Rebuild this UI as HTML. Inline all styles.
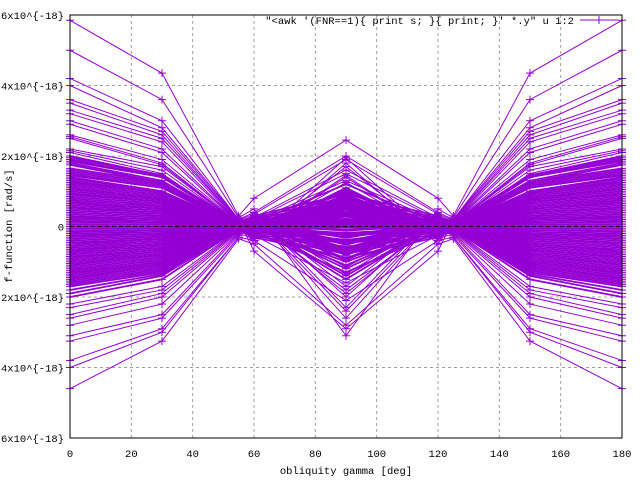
<!DOCTYPE html>
<html><head><meta charset="utf-8"><style>
body{margin:0;background:#fff}
svg{display:block;font-family:"Liberation Mono","DejaVu Sans Mono",monospace;font-size:10.5px}
</style></head><body>
<svg id="chart" width="640" height="480" viewBox="0 0 640 480" xmlns="http://www.w3.org/2000/svg">
<g id="grid"></g>
<g id="series"></g>
<g id="axes"></g>
<text x="346" y="474" text-anchor="middle">obliquity gamma [deg]</text>
<text transform="translate(12,226) rotate(-90)" text-anchor="middle">f-function [rad/s]</text>
<g>
<text x="574" y="24" text-anchor="end">"&lt;awk '(FNR==1){ print s; }{ print; }' *.y" u 1:2</text>
<line x1="580" y1="20" x2="618" y2="20" stroke="#9400d3"/>
<path d="M595 20h8M599 16v8" stroke="#9400d3"/>
</g>
</svg>
<script>
const xTicks=[0,20,40,60,80,100,120,140,160,180];
const yTicks=[-6,-4,-2,0,2,4,6];
const yTickLabels=["-6x10^{-18}","-4x10^{-18}","-2x10^{-18}","0","2x10^{-18}","4x10^{-18}","6x10^{-18}"];
const xPoints=[0,30,55,60,90,120,125,150,180];
const valAt0=[5.85,5.0,4.2,4.0,3.6,3.5,3.3,3.2,3.0,2.9,2.6,2.55,2.5,2.2,2.15,2.1,2.0,1.9,1.8,1.75,1.6,1.5,1.4,1.3,1.2,1.1,1.0,0.9,0.8,0.7,0.6,0.5,0.4,0.3,0.2,0.1,0.0,-0.1,-0.2,-0.3,-0.4,-0.5,-0.6,-0.7,-0.8,-0.9,-1.0,-1.1,-1.2,-1.3,-1.4,-1.5,-1.6,-1.7,-1.8,-1.9,-2.0,-2.2,-2.3,-2.5,-2.6,-2.8,-3.1,-3.25,-3.8,-4.0,-4.6,
1.95,1.85,1.65,1.55,1.45,1.35,1.25,1.15,1.05,0.95,0.85,0.75,0.65,0.55,0.45,0.35,0.25,0.15,0.05,-0.05,-0.15,-0.25,-0.35,-0.45,-0.55,-0.65,-0.75,-0.85,-0.95,-1.05,-1.15,-1.25,-1.35,-1.45,-1.55,-1.65];
const valAt30=[4.35,3.6,3.0,2.8,2.7,2.6,2.5,2.4,2.2,2.1,1.9,1.8,1.75,1.7,1.6,1.5,1.45,1.4,1.3,1.25,1.2,1.1,1.0,0.95,0.9,0.8,0.75,0.7,0.6,0.5,0.45,0.4,0.3,0.2,0.15,0.1,0.0,-0.1,-0.15,-0.2,-0.3,-0.35,-0.45,-0.5,-0.6,-0.65,-0.75,-0.8,-0.9,-1.0,-1.05,-1.1,-1.2,-1.3,-1.35,-1.4,-1.5,-1.7,-1.8,-1.9,-2.0,-2.2,-2.5,-2.6,-2.9,-3.0,-3.25,
1.45,1.4,1.25,1.15,1.1,1.0,0.95,0.85,0.8,0.7,0.65,0.55,0.5,0.4,0.35,0.25,0.2,0.1,0.05,-0.05,-0.1,-0.2,-0.25,-0.35,-0.4,-0.5,-0.55,-0.65,-0.7,-0.8,-0.85,-0.95,-1.0,-1.1,-1.15,-1.25];
const valAt55=[0.3,0.25,0.2,0.2,0.18,0.15,0.15,0.12,0.12,0.1,0.1,0.08,0.08,0.07,0.06,0.05,0.05,0.04,0.04,0.03,0.03,0.02,0.02,0.01,0.01,0,0,0,0,0,0,0,0,0,0,0,0,0,0,0,0,0,0,0,0,0,-0.01,-0.01,-0.02,-0.02,-0.03,-0.03,-0.04,-0.05,-0.05,-0.06,-0.07,-0.08,-0.1,-0.12,-0.15,-0.18,-0.2,-0.25,-0.3,-0.3,-0.35,
0.1,0.08,0.06,0.05,0.04,0.03,0.02,0.02,0.01,0,0,0,0,0,0,0,0,0,0,0,0,0,0,0,0,0,-0.01,-0.02,-0.02,-0.03,-0.04,-0.05,-0.06,-0.08,-0.1,-0.1];
const valAt60=[0.8,0.5,0.4,-0.7,0.35,0.3,-0.5,0.3,0.25,-0.4,0.2,0.2,-0.3,0.15,0.15,-0.25,0.1,0.1,-0.2,0.1,0.05,-0.15,0.05,0.05,-0.1,0,0.05,-0.05,0,0.05,-0.05,0,0.02,-0.02,0,0.02,0,-0.02,0.02,0,-0.05,0.05,0,-0.05,0.05,0,-0.1,0.1,-0.05,0.05,-0.15,0.1,-0.1,0.15,-0.2,0.15,-0.2,0.2,-0.25,0.25,-0.3,0.3,-0.35,0.35,-0.4,0.4,-0.5,
0.3,-0.3,0.25,-0.25,0.2,-0.2,0.15,-0.15,0.1,-0.1,0.1,-0.1,0.05,-0.05,0.05,-0.05,0,0,0,0,0.05,-0.05,0.05,-0.05,0.1,-0.1,0.1,-0.1,0.15,-0.15,0.2,-0.2,0.25,-0.25,0.3,-0.3];
const valAt90=[2.45,-3.1,2.0,-2.9,1.9,-2.6,1.8,-2.4,1.6,-2.1,1.5,-1.9,1.4,-1.8,1.3,-1.6,1.2,-1.5,1.1,-1.4,1.0,-1.3,0.95,-1.2,0.9,-1.1,0.8,-1.0,0.75,-0.9,0.7,-0.8,0.6,-0.7,0.5,-0.6,0.4,-0.5,0.3,-0.4,0.2,-0.3,0.1,-0.2,0.0,-0.1,0.15,-0.25,0.35,-0.45,0.55,-0.65,0.65,-0.75,0.85,-0.95,1.05,-1.15,1.25,-1.35,1.45,-1.7,1.7,-2.0,1.95,-2.3,-2.8,
0.92,-0.88,0.82,-0.78,0.72,-0.68,0.62,-0.58,0.52,-0.48,0.42,-0.38,0.32,-0.28,0.22,-0.18,0.12,-0.08,0.05,-0.02,-0.12,0.18,-0.22,0.28,-0.32,0.38,-0.42,0.48,-0.52,0.58,-0.62,0.68,-0.72,0.78,-0.82,0.88];
const X0=70,X1=622,Y0=438,Y1=15;
const sx=v=>X0+(v-0)/180*(X1-X0);
const sy=v=>Y0-(v+6)/12*(Y0-Y1);
const NS="http://www.w3.org/2000/svg";
function mk(tag,attrs,parent){const e=document.createElementNS(NS,tag);for(const k in attrs)e.setAttribute(k,attrs[k]);parent.appendChild(e);return e;}
const grid=document.getElementById('grid'),axes=document.getElementById('axes'),ser=document.getElementById('series');
xTicks.forEach(t=>{
  const x=sx(t);
  if(t>0&&t<180){const g=mk('line',{x1:x,y1:Y1,x2:x,y2:Y0,stroke:'#a0a0a0','stroke-dasharray':'3,3'},grid);
  
  }
  const tl=mk('text',{x:x,y:457,'text-anchor':'middle'},axes);tl.textContent=t;
  
  
});
yTicks.forEach((t,i)=>{
  const y=sy(t);
  if(t!==0&&Math.abs(t)<6){const g=mk('line',{x1:X0,y1:y,x2:X1,y2:y,stroke:'#a0a0a0','stroke-dasharray':'3,3'},grid);
  
  }
  const tl=mk('text',{x:64,y:y+4,'text-anchor':'end'},axes);tl.textContent=yTickLabels[i];
  
  
});
valAt0.forEach((a,i)=>{
  const vals=[a,valAt30[i],valAt55[i],valAt60[i],valAt90[i],valAt60[i],valAt55[i],valAt30[i],a];
  const pts=vals.map((v,j)=>[sx(xPoints[j]),sy(v)]);
  const p=mk('polyline',{points:pts.map(q=>q.join(',')).join(' '),fill:'none',stroke:'#9400d3','stroke-width':Math.abs(a)<2.1?1.8:1},ser);
  
  
  let d='';pts.forEach(q=>{d+=`M${q[0]-4} ${q[1]}h8M${q[0]} ${q[1]-4}v8`;});
  const m=mk('path',{d:d,stroke:'#9400d3','stroke-width':1},ser);
  
  
});
const z=mk('line',{x1:X0,y1:sy(0),x2:X1,y2:sy(0),stroke:'#000','stroke-dasharray':'4,3'},axes);


const f=mk('rect',{x:X0,y:Y1,width:X1-X0,height:Y0-Y1,fill:'none',stroke:'#000'},axes);


</script>
</body></html>
